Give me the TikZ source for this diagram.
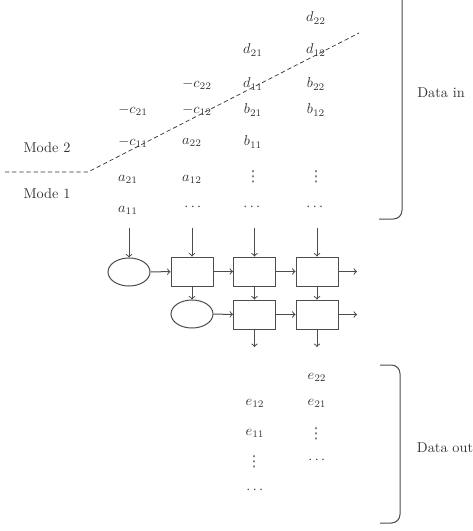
\documentclass[tikz,border=0pt]{standalone}
\usepackage{amsmath,amssymb}
\usepackage{fontspec}
\newfontfamily\dotsfont{DejaVu Sans}
\usetikzlibrary{shapes.geometric}
\tikzset{
  pecell/.style={draw=black!70,line width=0.7pt,minimum width=29.4pt,minimum height=20.3pt,inner sep=0pt},
  peoval/.style={ellipse,draw=black!70,line width=0.7pt,minimum width=29.4pt,minimum height=19.6pt,inner sep=0pt},
  peflow/.style={->,draw=black!70,line width=0.7pt},
  entry/.style={text=black!80,inner sep=1pt},
  vdotsentry/.style={entry,text=black!65,inner sep=0pt,font=\dotsfont\fontsize{10.5}{10.5}\selectfont},
  modeline/.style={densely dashed,draw=black!80,line width=0.5pt},
  databrace/.style={draw=black!70,line width=0.7pt,rounded corners=6pt},
  every picture/.style={font=\normalsize}
}

\begin{document}
\begin{tikzpicture}[x=0.7pt,y=-0.7pt]
  \useasboundingbox (0,0) rectangle (473,531);
  % input data
  \node[entry] (d22) at (316,18) {$d_{22}$};
  \node[entry] (d21) at (253,50) {$d_{21}$};
  \node[entry] (d12) at (316,50) {$d_{12}$};
  \node[entry] (mc22) at (197,84) {$-c_{22}$};
  \node[entry] (d11) at (253,84) {$d_{11}$};
  \node[entry] (b22) at (316,84) {$b_{22}$};
  \node[entry] (mc21) at (133,110) {$-c_{21}$};
  \node[entry] (mc12) at (197,110) {$-c_{12}$};
  \node[entry] (b21) at (253,110) {$b_{21}$};
  \node[entry] (b12) at (316,110) {$b_{12}$};
  \node[entry] (mc11) at (133,142) {$-c_{11}$};
  \node[entry] (a22) at (192,142) {$a_{22}$};
  \node[entry] (b11) at (253,142) {$b_{11}$};
  \node[entry] (a21) at (128,179) {$a_{21}$};
  \node[entry] (a12) at (192,179) {$a_{12}$};
  \node[vdotsentry] (vin3) at (253,177) {⋮};
  \node[vdotsentry] (vin4) at (316,177) {⋮};
  \node[entry] (a11) at (128,210) {$a_{11}$};
  \node[entry] (hin2) at (194,207) {$\cdots$};
  \node[entry] (hin3) at (253,207) {$\cdots$};
  \node[entry] (hin4) at (316,207) {$\cdots$};
  % modes
  \draw[modeline] (5,172)--(88,172)--(359,33);
  \node[entry] (mode2) at (47,148) {Mode 2};
  \node[entry] (mode1) at (47,194) {Mode 1};
  % array
  \node[peoval] (pe11) at (129,272) {};
  \node[pecell] (pe12) at (192,271.5) {};
  \node[pecell] (pe13) at (254.5,271.5) {};
  \node[pecell] (pe14) at (317,271.5) {};
  \node[peoval] (pe22) at (192,314) {};
  \node[pecell] (pe23) at (254.5,314.5) {};
  \node[pecell] (pe24) at (317,314.5) {};
  \coordinate (in1) at (129,228);
  \coordinate (in2) at (192,228);
  \coordinate (in3) at (254.5,228);
  \coordinate (in4) at (317,228);
  \coordinate (out1) at (357,271.5);
  \coordinate (out2) at (357,314.5);
  \coordinate (out3) at (254.5,347);
  \coordinate (out4) at (317,347);
  \draw[peflow] (in1)--(pe11);
  \draw[peflow] (in2)--(pe12);
  \draw[peflow] (in3)--(pe13);
  \draw[peflow] (in4)--(pe14);
  \draw[peflow] (pe11)--(pe12);
  \draw[peflow] (pe12)--(pe13);
  \draw[peflow] (pe13)--(pe14);
  \draw[peflow] (pe14)--(out1);
  \draw[peflow] (pe12)--(pe22);
  \draw[peflow] (pe13)--(pe23);
  \draw[peflow] (pe14)--(pe24);
  \draw[peflow] (pe22)--(pe23);
  \draw[peflow] (pe23)--(pe24);
  \draw[peflow] (pe24)--(out2);
  \draw[peflow] (pe23)--(out3);
  \draw[peflow] (pe24)--(out4);
  % output data
  \node[entry] (e22) at (317,377) {$e_{22}$};
  \node[entry] (e12) at (255,403) {$e_{12}$};
  \node[entry] (e21) at (317,403) {$e_{21}$};
  \node[entry] (e11) at (255,433) {$e_{11}$};
  \node[vdotsentry] (vout4) at (316,434) {⋮};
  \node[vdotsentry] (vout3) at (254,462) {⋮};
  \node[entry] (hout4) at (318,460) {$\cdots$};
  \node[entry] (hout3) at (256,490) {$\cdots$};
  % braces
  \draw[databrace] (379,219)-|(402,-10);
  \node[entry] (datain) at (441,93) {Data in};
  \draw[databrace] (380,365)-|(400,523)--(380,523);
  \node[entry] (dataout) at (445,448) {Data out};
\end{tikzpicture}
\end{document}
